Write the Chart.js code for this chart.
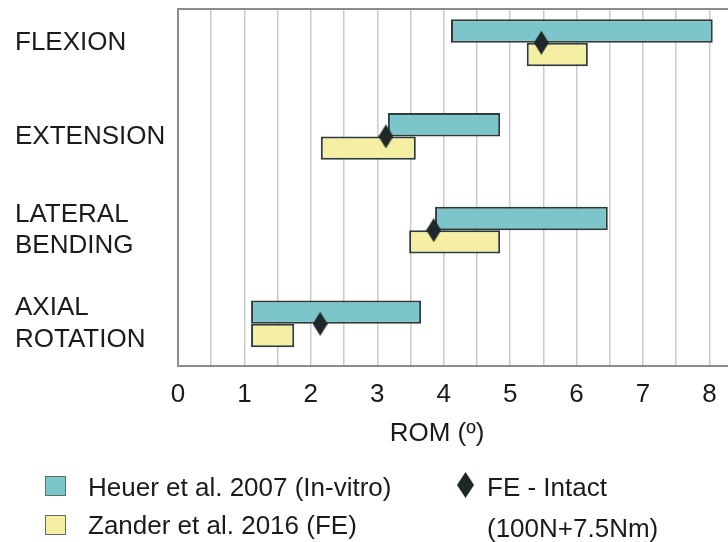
<!DOCTYPE html>
<html>
<head>
<meta charset="utf-8">
<script src="https://cdn.jsdelivr.net/npm/chart.js@4.4.1/dist/chart.umd.min.js"></script>
<style>
  html, body { margin: 0; padding: 0; background: #ffffff; }
  #wrap { position: relative; width: 728px; height: 542px; overflow: hidden;
          font-family: "Liberation Sans", Arial, sans-serif; color: #1b1b1b; }
  #c { position: absolute; left: 0; top: 0; }
  .txt { position: absolute; font-size: 26px; line-height: 30px; white-space: nowrap; }
  .swatch { position: absolute; width: 19px; height: 18px; box-sizing: content-box; }
</style>
</head>
<body>
<div id="wrap">
  <canvas id="c" width="728" height="542"></canvas>
  <div class="txt" id="xTitle" style="left:337px; width:200px; text-align:center; top:417px;"></div>
  <div id="legend"></div>
</div>
<script>
// Motion categories (multi-line labels)
const movements = [['FLEXION'], ['EXTENSION'], ['LATERAL', 'BENDING'], ['AXIAL', 'ROTATION']];

// Range of motion (degrees): in-vitro range, FE range, FE intact model
const heuerMin  = [4.11, 3.16, 3.87, 1.10];
const heuerMax  = [8.05, 4.85, 6.47, 3.66];
const zanderMin = [5.25, 2.15, 3.48, 1.10];
const zanderMax = [6.17, 3.58, 4.85, 1.75];
const feIntact  = [5.47, 3.13, 3.85, 2.14];

const seriesNames = ['Heuer et al. 2007 (In-vitro)', 'Zander et al. 2016 (FE)', 'FE - Intact', '(100N+7.5Nm)'];
const xTickValues = [0, 0.5, 1, 1.5, 2, 2.5, 3, 3.5, 4, 4.5, 5, 5.5, 6, 6.5, 7, 7.5, 8];
const xTitleText = 'ROM (º)';

const FONT = '"Liberation Sans", Arial, sans-serif';
const TEAL = 'rgb(124,197,202)';
const YELLOW = 'rgb(244,239,162)';
const EDGE = '#2f3b3b';
const DIAMOND = '#1f2828';

// Tall diamond marker
function makeDiamond(w, h, color) {
  const cv = document.createElement('canvas');
  cv.width = w; cv.height = h;
  const g = cv.getContext('2d');
  g.fillStyle = color;
  g.beginPath();
  g.moveTo(w / 2, 0);
  g.lineTo(w, h / 2);
  g.lineTo(w / 2, h);
  g.lineTo(0, h / 2);
  g.closePath();
  g.fill();
  return cv;
}
const diamond = makeDiamond(15, 24, DIAMOND);

const heuerData = heuerMin.map((v, i) => ({ x: [v, heuerMax[i]], y: i }));
const zanderData = zanderMin.map((v, i) => ({ x: [v, zanderMax[i]], y: i }));
const feData = feIntact.map((v, i) => ({ x: v, y: i }));

// Top frame line of the plot area
const frameTop = {
  id: 'frameTop',
  beforeDatasetsDraw(chart) {
    const { ctx, chartArea } = chart;
    ctx.save();
    ctx.strokeStyle = '#8c8c8c';
    ctx.lineWidth = 2;
    ctx.beginPath();
    ctx.moveTo(chartArea.left, chartArea.top);
    ctx.lineTo(chartArea.right, chartArea.top);
    ctx.stroke();
    ctx.restore();
  }
};

new Chart(document.getElementById('c'), {
  type: 'bar',
  data: {
    datasets: [
      {
        type: 'bar', label: seriesNames[0], data: heuerData,
        backgroundColor: TEAL, borderColor: EDGE, borderWidth: 2, borderSkipped: false,
        categoryPercentage: 0.5, barPercentage: 1.0, order: 1
      },
      {
        type: 'bar', label: seriesNames[1], data: zanderData,
        backgroundColor: YELLOW, borderColor: EDGE, borderWidth: 2, borderSkipped: false,
        categoryPercentage: 0.5, barPercentage: 1.0, order: 1
      },
      {
        type: 'scatter', label: seriesNames[2], data: feData, indexAxis: 'x',
        pointStyle: diamond, pointRadius: 8, order: 0
      }
    ]
  },
  options: {
    indexAxis: 'y',
    responsive: false,
    animation: false,
    devicePixelRatio: 1,
    layout: { autoPadding: false, padding: { left: 15, top: 9, right: 0, bottom: 0 } },
    plugins: { legend: { display: false }, tooltip: { enabled: false } },
    scales: {
      x: {
        type: 'linear', position: 'bottom', min: 0, max: 8.28, offset: false,
        afterBuildTicks: (s) => { s.ticks = xTickValues.map(v => ({ value: v })); },
        afterFit: (s) => { s.height = 176; s.paddingLeft = 0; s.paddingRight = 0; },
        ticks: {
          autoSkip: false, maxRotation: 0, padding: 13, color: '#1b1b1b',
          font: { family: FONT, size: 26 },
          callback: (v) => (Number.isInteger(v) ? String(v) : '')
        },
        grid: { color: '#cbcbcb', lineWidth: 1.5, drawTicks: false, offset: false },
        border: { display: true, color: '#8c8c8c', width: 2 }
      },
      y: {
        type: 'linear', position: 'left', reverse: true, min: -0.36, max: 3.45, offset: false,
        afterBuildTicks: (s) => { s.ticks = movements.map((m, i) => ({ value: i })); },
        afterFit: (s) => { s.width = 163; s.paddingTop = 0; s.paddingBottom = 0; },
        ticks: {
          autoSkip: false, crossAlign: 'far', color: '#1b1b1b',
          font: { family: FONT, size: 26, lineHeight: 1.2 },
          callback: (v) => movements[v]
        },
        grid: { display: false, offset: false },
        border: { display: true, color: '#8c8c8c', width: 2 }
      }
    }
  },
  plugins: [frameTop]
});

// Axis title and legend
document.getElementById('xTitle').textContent = xTitleText;

const legend = document.getElementById('legend');
function addSwatch(left, top, color) {
  const d = document.createElement('div');
  d.className = 'swatch';
  d.style.left = left + 'px'; d.style.top = top + 'px';
  d.style.background = color; d.style.border = '1.5px solid #5f6c6c';
  legend.appendChild(d);
}
function addText(left, centerY, text) {
  const d = document.createElement('div');
  d.className = 'txt';
  d.style.left = left + 'px'; d.style.top = (centerY - 15) + 'px';
  d.textContent = text;
  legend.appendChild(d);
}
addSwatch(45, 476, TEAL);
addText(88, 487, seriesNames[0]);
addSwatch(45, 515, YELLOW);
addText(88, 525, seriesNames[1]);
const dm = makeDiamond(17, 26, DIAMOND);
dm.style.position = 'absolute'; dm.style.left = '457px'; dm.style.top = '472px';
legend.appendChild(dm);
addText(487, 487, seriesNames[2]);
addText(487, 528, seriesNames[3]);
</script>
</body>
</html>
